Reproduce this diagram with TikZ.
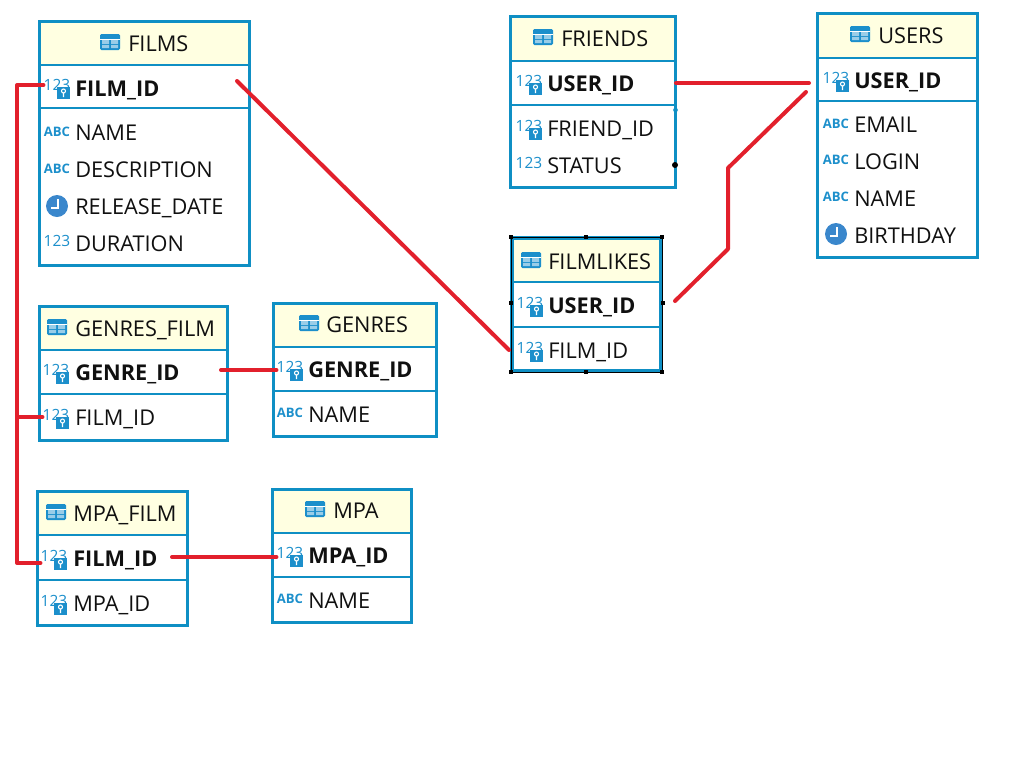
\documentclass[tikz,border=0pt]{standalone}
\usepackage{fontspec}
\setmainfont{Open Sans}
\usetikzlibrary{fit}

\definecolor{tableblue}{HTML}{0F8FC4}
\definecolor{iconblue}{HTML}{1C8FCB}
\definecolor{headyellow}{HTML}{FFFFE1}
\definecolor{linkred}{HTML}{E2202C}
\definecolor{clockblue}{HTML}{3A87CC}
\definecolor{textblack}{HTML}{101010}

\tikzset{
  tablebox/.style={draw=tableblue, line width=2.25pt, inner sep=0pt},
  headbox/.style={draw=tableblue, line width=1.6pt, fill=headyellow, inner sep=0pt},
  rowbox/.style={draw=tableblue, line width=1.6pt, inner sep=0pt},
  coltext/.style={anchor=west, inner sep=0pt, text height=11.7pt, text depth=0pt, text=textblack, font=\fontsize{16.3}{18}\selectfont},
  keytext/.style={coltext, font=\fontsize{16.3}{18}\selectfont\bfseries},
  icontext/.style={inner sep=0pt, text=iconblue, font=\fontsize{11.6}{12}\selectfont},
  handle/.style={fill=black, inner sep=0pt, minimum size=3.4pt},
  link/.style={draw=linkred, line width=3pt, line cap=round, line join=round},
  numicon/.pic={\node[icontext] (-num) at (0,-3) {123};},
  abcicon/.pic={\node[icontext, font=\fontsize{9.8}{10}\selectfont\bfseries] (-abc) at (0,-1) {ABC};},
  keyicon/.pic={
    \node[icontext] (-num) at (0,-3) {123};
    \fill[iconblue] (0,-1) rectangle (13,11);
    \draw[white, line width=0.8pt] (6.5,3) circle (2) (6.5,5) -- (6.5,9);
  },
  clockicon/.pic={
    \node[circle, fill=clockblue, minimum size=16.5pt, inner sep=0pt] (-face) at (0,0) {};
    \draw[white, line width=1.1pt] (1,-7) -- (1,2) -- (-6,2);
  },
  tableicon/.pic={
    \fill[iconblue, rounded corners=1pt] (-10,-8) rectangle (10,8);
    \fill[white!55!iconblue] (-8,-2) rectangle (-1,2) (1,-2) rectangle (8,2);
    \fill[white!55!iconblue] (-8,3) rectangle (-1,6) (1,3) rectangle (8,6);
    \draw[white, line width=0.6pt] (-10,-2.5) -- (10,-2.5);
  }
}

% name, x1, y1, x2, y2, header bottom, key row bottom
\newcommand{\dbtable}[7]{
  \node[headbox, fit={(#2,#3)(#4,#6)}] (#1_head) {};
  \node[rowbox, fit={(#2,#6)(#4,#7)}] (#1_key) {};
  \node[tablebox, fit={(#2,#3)(#4,#5)}] (#1) {};
}

\begin{document}
\begin{tikzpicture}[x=0.75pt, y=-0.75pt]
  \useasboundingbox (0,0) rectangle (1021,758);

  % films
  \dbtable{films}{39}{21}{249}{265}{65}{108}
  \pic at (110,42) {tableicon};
  \node[coltext] (films_title) at (128,44) {FILMS};
  \pic (films_id_i) at (57,88) {keyicon};
  \node[keytext] (films_id) at (75,89) {FILM\_ID};
  \pic (films_name_i) at (57,133) {abcicon};
  \node[coltext] (films_name) at (75,133) {NAME};
  \pic (films_desc_i) at (57,170) {abcicon};
  \node[coltext] (films_desc) at (75,170) {DESCRIPTION};
  \pic (films_date_i) at (57,206) {clockicon};
  \node[coltext] (films_date) at (75,207) {RELEASE\_DATE};
  \pic (films_dur_i) at (57,244) {numicon};
  \node[coltext] (films_dur) at (75,244) {DURATION};

  % genres_film
  \dbtable{gfilm}{39}{306}{227}{440}{350}{394}
  \pic at (57,327) {tableicon};
  \node[coltext] (gfilm_title) at (75,329) {GENRES\_FILM};
  \pic (gfilm_id_i) at (56,373) {keyicon};
  \node[keytext] (gfilm_id) at (75,373) {GENRE\_ID};
  \pic (gfilm_film_i) at (56,418) {keyicon};
  \node[coltext] (gfilm_film) at (75,418) {FILM\_ID};

  % genres
  \dbtable{genres}{273}{303}{436}{436}{347}{391}
  \pic at (309,323) {tableicon};
  \node[coltext] (genres_title) at (326,325) {GENRES};
  \pic (genres_id_i) at (290,370) {keyicon};
  \node[keytext] (genres_id) at (308,370) {GENRE\_ID};
  \pic (genres_name_i) at (290,414) {abcicon};
  \node[coltext] (genres_name) at (308,415) {NAME};

  % mpa_film
  \dbtable{mfilm}{37}{491}{187}{625}{535}{580}
  \pic at (56,512) {tableicon};
  \node[coltext] (mfilm_title) at (73,514) {MPA\_FILM};
  \pic (mfilm_id_i) at (54,559) {keyicon};
  \node[keytext] (mfilm_id) at (73,559) {FILM\_ID};
  \pic (mfilm_mpa_i) at (54,604) {keyicon};
  \node[coltext] (mfilm_mpa) at (73,604) {MPA\_ID};

  % mpa
  \dbtable{mpa}{272}{489}{411}{622}{533}{577}
  \pic at (315,509) {tableicon};
  \node[coltext] (mpa_title) at (333,511) {MPA};
  \pic (mpa_id_i) at (290,556) {keyicon};
  \node[keytext] (mpa_id) at (308,556) {MPA\_ID};
  \pic (mpa_name_i) at (290,600) {abcicon};
  \node[coltext] (mpa_name) at (308,601) {NAME};

  % friends
  \dbtable{friends}{510}{16}{675}{187}{61}{105}
  \pic at (543,37) {tableicon};
  \node[coltext] (friends_title) at (561,39) {FRIENDS};
  \pic (friends_id_i) at (529,84) {keyicon};
  \node[keytext] (friends_id) at (547,84) {USER\_ID};
  \pic (friends_fr_i) at (529,129) {keyicon};
  \node[coltext] (friends_fr) at (547,129) {FRIEND\_ID};
  \pic (friends_st_i) at (529,166) {numicon};
  \node[coltext] (friends_st) at (547,166) {STATUS};
  \node[circle, fill=black, inner sep=0pt, minimum size=4.5pt] (friends_dot) at (675,165) {};
  \node[circle, fill=tableblue, inner sep=0pt, minimum size=3.5pt] (friends_bump) at (675.5,110) {};

  % users
  \dbtable{users}{817}{13}{977}{257}{58}{101}
  \pic at (860,34) {tableicon};
  \node[coltext] (users_title) at (878,36) {USERS};
  \pic (users_id_i) at (836,81) {keyicon};
  \node[keytext] (users_id) at (854,81) {USER\_ID};
  \pic (users_email_i) at (836,125) {abcicon};
  \node[coltext] (users_email) at (854,125) {EMAIL};
  \pic (users_login_i) at (836,161) {abcicon};
  \node[coltext] (users_login) at (854,162) {LOGIN};
  \pic (users_name_i) at (836,198) {abcicon};
  \node[coltext] (users_name) at (854,199) {NAME};
  \pic (users_bday_i) at (836,234) {clockicon};
  \node[coltext] (users_bday) at (854,236) {BIRTHDAY};

  % filmlikes, selected
  \dbtable{likes}{512}{238}{661}{371}{282}{327}
  \node[tablebox, line width=3.2pt, fit={(512,238)(661,371)}] (likes_sel) {};
  \pic at (531,260) {tableicon};
  \node[coltext] (likes_title) at (548,262) {FILMLIKES};
  \pic (likes_id_i) at (530,306) {keyicon};
  \node[keytext] (likes_id) at (548,306) {USER\_ID};
  \pic (likes_film_i) at (530,351) {keyicon};
  \node[coltext] (likes_film) at (548,351) {FILM\_ID};
  \node[handle] (h_nw) at (511,237) {};
  \node[handle] (h_n) at (586,237) {};
  \node[handle] (h_ne) at (662,237) {};
  \node[handle] (h_w) at (511,303) {};
  \node[handle] (h_e) at (663,303) {};
  \node[handle] (h_sw) at (511,372) {};
  \node[handle] (h_s) at (586,372) {};
  \node[handle] (h_se) at (662,372) {};
  \draw[black, line width=0.5pt] (h_nw.center) rectangle (h_se.center);

  % free ends of the links
  \coordinate (bus_top) at (17,85);
  \coordinate (bus_mid) at (17,417);
  \coordinate (bus_bot) at (17,563);
  \coordinate (films_out) at (237,81);
  \coordinate (likes_in) at (509,350);
  \coordinate (gfilm_out) at (221,370);
  \coordinate (mfilm_out) at (172,557);
  \coordinate (friends_out) at (676,83);
  \coordinate (users_in) at (809,83);
  \coordinate (users_in2) at (806,92);
  \coordinate (bend_a) at (728,168);
  \coordinate (bend_b) at (728,249);
  \coordinate (likes_out) at (675,301);

  \draw[link] (films_id_i-num.west) -- (bus_top) -- (bus_bot) -- (mfilm_id_i-num.west |- bus_bot);
  \draw[link] (bus_mid) -- (gfilm_film_i-num.west |- bus_mid);
  \draw[link] (films_out) -- (likes_in);
  \draw[link] (gfilm_out) -- (genres_id_i-num.west |- gfilm_out);
  \draw[link] (mfilm_out) -- (mpa_id_i-num.west |- mfilm_out);
  \draw[link] (friends_out) -- (users_in);
  \draw[link] (users_in2) -- (bend_a) -- (bend_b) -- (likes_out);
\end{tikzpicture}
\end{document}
